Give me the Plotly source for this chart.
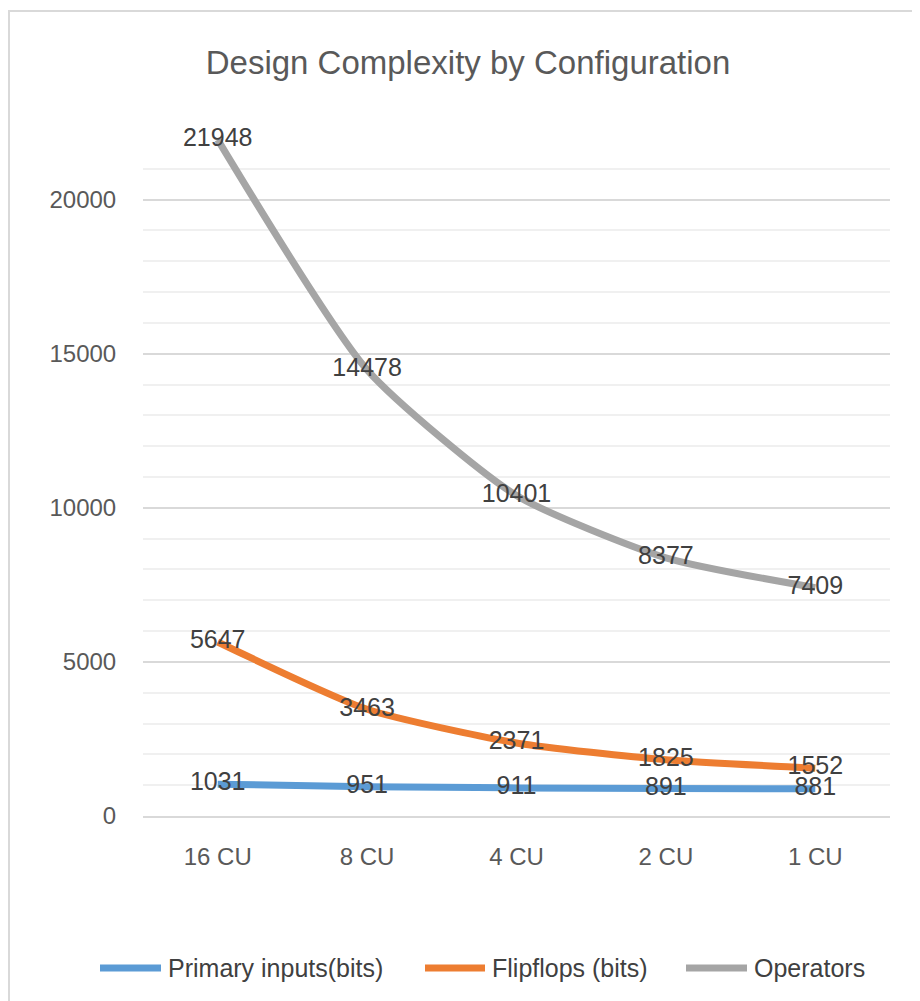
import plotly.graph_objects as go

categories = ["16 CU", "8 CU", "4 CU", "2 CU", "1 CU"]
primary_inputs = [1031, 951, 911, 891, 881]
flipflops = [5647, 3463, 2371, 1825, 1552]
operators = [21948, 14478, 10401, 8377, 7409]
series_names = ["Primary inputs(bits)", "Flipflops (bits)", "Operators"]
colors = ["#5B9BD5", "#ED7D31", "#A5A5A5"]

FONT = "Liberation Sans, Arial, sans-serif"
OFF = 8  # page body margin offset

W, H = 920, 1001
L, R, T, B = 143 - OFF, 30 + OFF, 138 - OFF, 185 + OFF
pw, ph = W - L - R, H - T - B
def px(x): return (x - OFF - L) / pw
def py(y): return (H - B - (y - OFF)) / ph

fig = go.Figure()
for name, vals, c in zip(series_names, [primary_inputs, flipflops, operators], colors):
    fig.add_trace(go.Scatter(
        x=categories, y=vals, name=name, mode="lines+text",
        line=dict(color=c, width=7, shape="spline", smoothing=0.6),
        text=[str(v) for v in vals], textposition="middle center",
        textfont=dict(size=25, color="#404040", family=FONT),
        cliponaxis=False, showlegend=False,
    ))

# custom legend (wide line swatches like the reference)
legend_x = [(97, 164), (422, 488), (683, 750)]
shapes = [dict(type="rect", xref="paper", yref="paper",
               x0=px(OFF + 1), x1=px(940), y0=py(1020), y1=py(11),
               line=dict(color="#D9D9D9", width=2), layer="below")]
annotations = []
for (x0, x1), name, c in zip(legend_x, series_names, colors):
    shapes.append(dict(type="line", xref="paper", yref="paper",
                       x0=px(x0 + 3), x1=px(x1 - 3), y0=py(968), y1=py(968),
                       line=dict(color=c, width=7)))
    annotations.append(dict(text=name, xref="paper", yref="paper",
                            x=px(x1 + 2), y=py(968), xanchor="left", yanchor="middle",
                            showarrow=False,
                            font=dict(size=25, color="#404040", family=FONT)))

fig.update_layout(
    width=W, height=H,
    margin=dict(l=L, r=R, t=T, b=B),
    paper_bgcolor="white", plot_bgcolor="white",
    title=dict(text="Design Complexity by Configuration", x=0.5,
               xanchor="center", y=1 - (62 - OFF) / H, yanchor="middle",
               font=dict(family=FONT, size=33, color="#595959")),
    font=dict(family=FONT, color="#595959"),
    showlegend=False,
    xaxis=dict(type="category", range=[-0.5, 4.5], showgrid=False, showline=True,
               linecolor="#D9D9D9", linewidth=1.5, ticks="outside", ticklen=18,
               tickcolor="rgba(0,0,0,0)", tickfont=dict(size=24, color="#595959"),
               zeroline=False),
    yaxis=dict(range=[0, 22000], dtick=5000, tickformat="d", showgrid=True,
               gridcolor="#D9D9D9", gridwidth=1.5, zeroline=False, showline=False,
               ticks="outside", ticklen=21, tickcolor="rgba(0,0,0,0)",
               tickfont=dict(size=24, color="#595959"),
               minor=dict(dtick=1000, showgrid=True, gridcolor="#F0F0F0", gridwidth=1.5)),
    shapes=shapes,
    annotations=annotations,
)

fig.write_html("out.html")
